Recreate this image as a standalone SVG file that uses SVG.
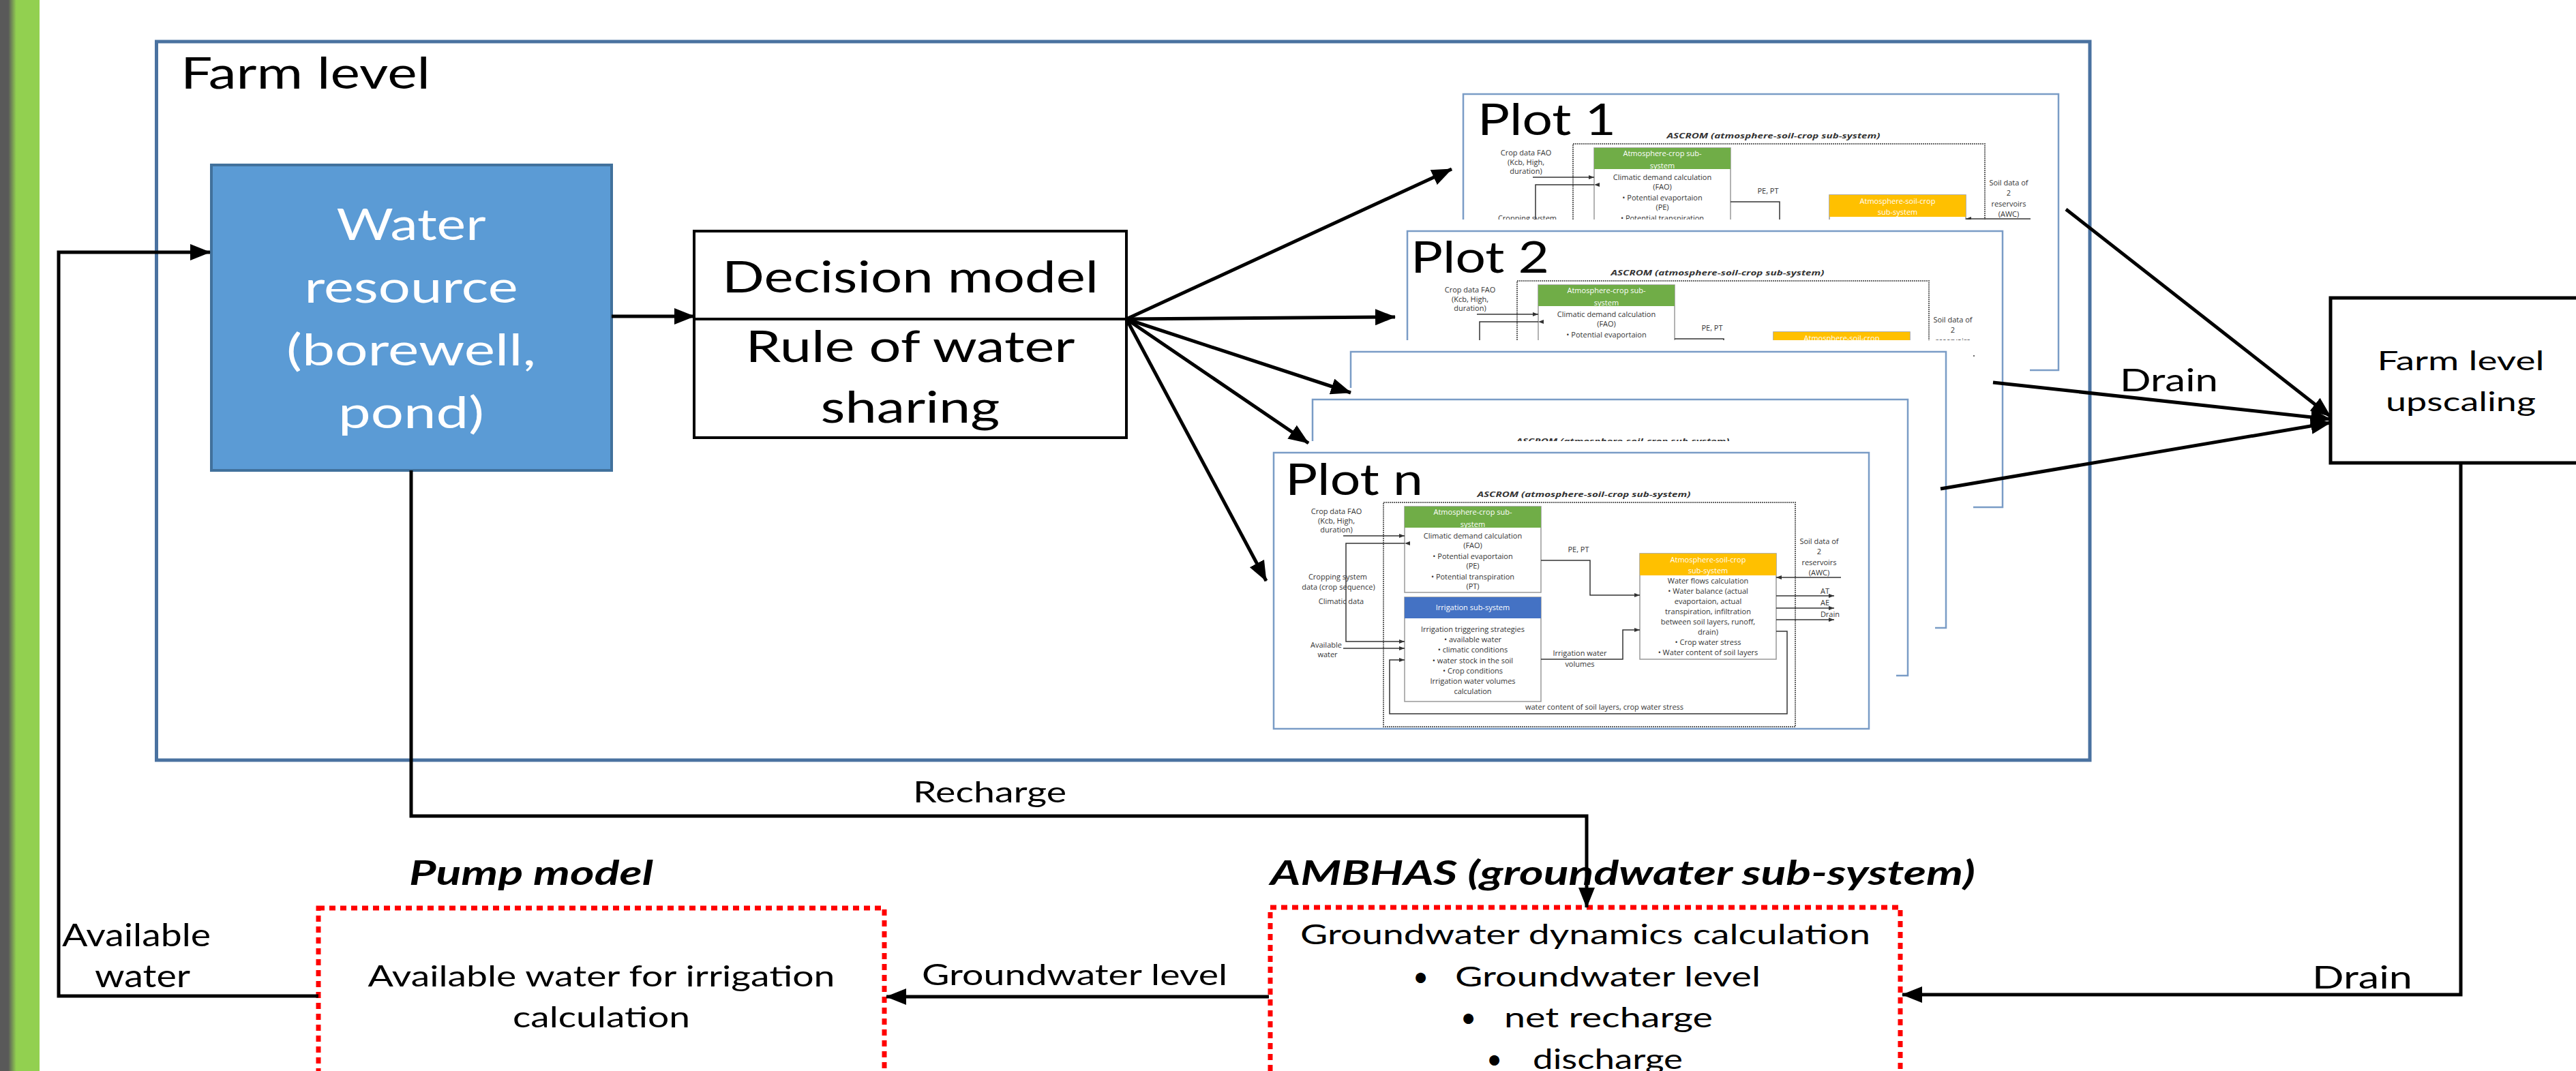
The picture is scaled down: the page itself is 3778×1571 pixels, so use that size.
<svg xmlns="http://www.w3.org/2000/svg" width="3778" height="1571" viewBox="0 0 3778 1571">
<defs>
<style>
.t{font-family:Lato,'Open Sans','Liberation Sans',sans-serif;fill:#000}
.m{text-anchor:middle}
.w{fill:#fff}
.bi{font-weight:bold;font-style:italic}
.conn{fill:none;stroke:#000;stroke-width:5}
.pbox{fill:none;stroke:#7a9cc6;stroke-width:2.5}
.red{fill:#fff;stroke:#ff0000;stroke-width:7;stroke-dasharray:9 7}
.s{font-family:'Open Sans','Liberation Sans',sans-serif;font-size:11px;fill:#333;text-anchor:middle}
.sw{fill:#fff}
.sr{text-anchor:end}
.sl{fill:none;stroke:#333;stroke-width:1.5}
</style>
<linearGradient id="bar" x1="0" x2="1" y1="0" y2="0">
<stop offset="0" stop-color="#595959"/>
<stop offset="0.21" stop-color="#595959"/>
<stop offset="0.41" stop-color="#92d050"/>
<stop offset="1" stop-color="#92d050"/>
</linearGradient>
<marker id="ah" viewBox="0 0 30 24" refX="29" refY="12" markerWidth="30" markerHeight="24" markerUnits="userSpaceOnUse" orient="auto"><path d="M0,0 L30,12 L0,24 z" fill="#000"/></marker>
<marker id="as" viewBox="0 0 8 6" refX="8" refY="3" markerWidth="8" markerHeight="6" markerUnits="userSpaceOnUse" orient="auto"><path d="M0,0 L8,3 L0,6 z" fill="#333"/></marker>
<g id="pc">
<text class="s bi" x="455" y="65" font-size="13" fill="#222" textLength="313" lengthAdjust="spacingAndGlyphs">ASCROM (atmosphere-soil-crop sub-system)</text>
<rect x="161" y="73" width="604" height="329" fill="none" stroke="#666" stroke-width="2" stroke-dasharray="2 1"/>
<rect x="192" y="79" width="200" height="126" fill="#fff" stroke="#999" stroke-width="1.5"/>
<rect x="192" y="79" width="200" height="31" fill="#70ad47"/>
<text class="s sw" x="292" y="91">Atmosphere-crop sub-</text>
<text class="s sw" x="292" y="109">system</text>
<text class="s" x="292" y="126">Climatic demand calculation</text>
<text class="s" x="292" y="140">(FAO)</text>
<text class="s" x="292" y="156">•   Potential evaportaion</text>
<text class="s" x="292" y="170">(PE)</text>
<text class="s" x="292" y="186">•   Potential transpiration</text>
<text class="s" x="292" y="200">(PT)</text>
<rect x="192" y="212" width="200" height="153" fill="#fff" stroke="#999" stroke-width="1.5"/>
<rect x="192" y="212" width="200" height="31" fill="#4472c4"/>
<text class="s sw" x="292" y="231">Irrigation sub-system</text>
<text class="s" x="292" y="263">Irrigation triggering strategies</text>
<text class="s" x="292" y="278">•   available water</text>
<text class="s" x="292" y="293">•   climatic conditions</text>
<text class="s" x="292" y="309">•   water stock in the soil</text>
<text class="s" x="292" y="324">•   Crop conditions</text>
<text class="s" x="292" y="339">Irrigation water volumes</text>
<text class="s" x="292" y="354">calculation</text>
<rect x="537" y="148" width="200" height="155" fill="#fff" stroke="#999" stroke-width="1.5"/>
<rect x="537" y="148" width="200" height="32" fill="#ffc000"/>
<text class="s sw" x="637" y="161">Atmosphere-soil-crop</text>
<text class="s sw" x="637" y="177">sub-system</text>
<text class="s" x="637" y="192">Water flows calculation</text>
<text class="s" x="637" y="207">•  Water balance (actual</text>
<text class="s" x="637" y="222">evaportaion, actual</text>
<text class="s" x="637" y="237">transpiration, infiltration</text>
<text class="s" x="637" y="252">between soil layers, runoff,</text>
<text class="s" x="637" y="267">drain)</text>
<text class="s" x="637" y="282">•  Crop water stress</text>
<text class="s" x="637" y="297">•  Water content of soil layers</text>
<text class="s" x="92" y="90">Crop data FAO</text>
<text class="s" x="92" y="104">(Kcb, High,</text>
<text class="s" x="92" y="117">duration)</text>
<text class="s" x="94" y="186">Cropping system</text>
<text class="s" x="95" y="201">data (crop sequence)</text>
<text class="s" x="99" y="222">Climatic data</text>
<text class="s" x="77" y="286">Available</text>
<text class="s" x="79" y="300">water</text>
<text class="s" x="447" y="146">PE, PT</text>
<text class="s" x="449" y="298">Irrigation water</text>
<text class="s" x="449" y="314">volumes</text>
<text class="s" x="800" y="134">Soil data of</text>
<text class="s" x="800" y="149">2</text>
<text class="s" x="800" y="165">reservoirs</text>
<text class="s" x="800" y="180">(AWC)</text>
<text class="s sr" x="815" y="207">AT</text>
<text class="s sr" x="815" y="224">AE</text>
<text class="s sr" x="830" y="241">Drain</text>
<text class="s" x="485" y="377">water content of soil layers, crop water stress</text>
<path class="sl" d="M102,122 H192" marker-end="url(#as)"/>
<path class="sl" d="M192,133 H106 V277 H192" marker-start="url(#as)" marker-end="url(#as)"/>
<path class="sl" d="M102,287 H192" marker-end="url(#as)"/>
<path class="sl" d="M737,262 H753 V383 H170 V304 H192" marker-end="url(#as)"/>
<path class="sl" d="M392,158 H464 V209 H537" marker-end="url(#as)"/>
<path class="sl" d="M392,303 H512 V260 H537" marker-end="url(#as)"/>
<path class="sl" d="M832,183 H737" marker-end="url(#as)"/>
<path class="sl" d="M737,210 H822" marker-end="url(#as)"/>
<path class="sl" d="M737,228 H822" marker-end="url(#as)"/>
<path class="sl" d="M737,245 H822" marker-end="url(#as)"/>
</g>
</defs>
<rect x="0" y="0" width="3778" height="1571" fill="#fff"/>
<rect x="0" y="0" width="58" height="1571" fill="url(#bar)"/>

<g id="farm-level">
<rect x="229.5" y="61" width="2835.5" height="1054" fill="none" stroke="#4a72a0" stroke-width="5"/>
<text class="t" x="265" y="130" font-size="64" textLength="366" lengthAdjust="spacingAndGlyphs">Farm level</text>
</g>

<g id="water-resource">
<rect x="310" y="242" width="587" height="448" fill="#5b9bd5" stroke="#41719c" stroke-width="4"/>
<text class="t m w" x="603" y="352" font-size="64" textLength="219" lengthAdjust="spacingAndGlyphs">Water</text>
<text class="t m w" x="603" y="444" font-size="64" textLength="313" lengthAdjust="spacingAndGlyphs">resource</text>
<text class="t m w" x="603" y="536" font-size="64" textLength="366" lengthAdjust="spacingAndGlyphs">(borewell,</text>
<text class="t m w" x="603" y="628" font-size="64" textLength="214" lengthAdjust="spacingAndGlyphs">pond)</text>
</g>

<g id="decision-model">
<rect x="1018" y="339" width="634" height="303" fill="#fff" stroke="#000" stroke-width="4"/>
<line x1="1018" y1="468" x2="1652" y2="468" stroke="#000" stroke-width="4"/>
<text class="t m" x="1335" y="429" font-size="64" textLength="552" lengthAdjust="spacingAndGlyphs">Decision model</text>
<text class="t m" x="1335" y="531" font-size="64" textLength="483" lengthAdjust="spacingAndGlyphs">Rule of water</text>
<text class="t m" x="1335" y="620" font-size="64" textLength="263" lengthAdjust="spacingAndGlyphs">sharing</text>
</g>

<g id="plot-1">
<rect x="2129" y="121" width="930" height="439" fill="#fff"/>
<rect class="pbox" x="2146" y="138" width="873" height="405"/>
<use href="#pc" x="2146" y="138"/>
<text class="t" x="2167" y="198" font-size="63" textLength="203" lengthAdjust="spacingAndGlyphs">Plot 1</text>
</g>
<g id="plot-2">
<rect x="2047" y="322" width="930" height="439" fill="#fff"/>
<rect class="pbox" x="2064" y="339" width="873" height="405"/>
<use href="#pc" x="2064" y="339"/>
<text class="t" x="2069" y="400" font-size="63" textLength="203" lengthAdjust="spacingAndGlyphs">Plot 2</text>
</g>
<g id="plot-3">
<rect x="1964" y="499" width="930" height="439" fill="#fff"/>
<rect class="pbox" x="1981" y="516" width="873" height="405"/>
<use href="#pc" x="1981" y="516"/>
</g>
<g id="plot-4">
<rect x="1908" y="569" width="930" height="439" fill="#fff"/>
<rect class="pbox" x="1925" y="586" width="873" height="405"/>
<use href="#pc" x="1925" y="586"/>
</g>
<g id="plot-n">
<rect x="1851" y="647" width="930" height="439" fill="#fff"/>
<rect class="pbox" x="1868" y="664" width="873" height="405"/>
<use href="#pc" x="1868" y="664"/>
<text class="t" x="1885" y="726" font-size="63" textLength="202" lengthAdjust="spacingAndGlyphs">Plot n</text>
</g>

<g id="farm-upscaling">
<rect x="3418" y="437" width="420" height="242" fill="#fff" stroke="#000" stroke-width="5"/>
<text class="t m" x="3609" y="543" font-size="39" textLength="245" lengthAdjust="spacingAndGlyphs">Farm level</text>
<text class="t m" x="3609" y="603" font-size="39" textLength="220" lengthAdjust="spacingAndGlyphs">upscaling</text>
</g>

<g id="pump-model">
<rect class="red" x="467" y="1332" width="830" height="300"/>
<text class="t bi" x="600" y="1298" font-size="49" textLength="358" lengthAdjust="spacingAndGlyphs">Pump model</text>
<text class="t m" x="882" y="1447" font-size="42" textLength="685" lengthAdjust="spacingAndGlyphs">Available water for irrigation</text>
<text class="t m" x="882" y="1507" font-size="42" textLength="260" lengthAdjust="spacingAndGlyphs">calculation</text>
</g>

<g id="ambhas">
<rect class="red" x="1863" y="1331" width="924" height="300"/>
<text class="t bi" x="1863" y="1298" font-size="49" textLength="1034" lengthAdjust="spacingAndGlyphs">AMBHAS (groundwater sub-system)</text>
<text class="t" x="1907" y="1385" font-size="40" textLength="836" lengthAdjust="spacingAndGlyphs">Groundwater dynamics calculation</text>
<text class="t" x="2072" y="1447" font-size="40">•</text>
<text class="t" x="2134" y="1447" font-size="40" textLength="448" lengthAdjust="spacingAndGlyphs">Groundwater level</text>
<text class="t" x="2142" y="1507" font-size="40">•</text>
<text class="t" x="2206" y="1507" font-size="40" textLength="306" lengthAdjust="spacingAndGlyphs">net recharge</text>
<text class="t" x="2180" y="1568" font-size="40">•</text>
<text class="t" x="2248" y="1568" font-size="40" textLength="220" lengthAdjust="spacingAndGlyphs">discharge</text>
</g>

<g id="connectors">
<path class="conn" d="M467,1461 H86 V370 H308" marker-end="url(#ah)"/>
<path class="conn" d="M897,464 H1018" marker-end="url(#ah)"/>
<path class="conn" stroke-width="6" d="M1652,468 L2129,248" marker-end="url(#ah)"/>
<path class="conn" stroke-width="6" d="M1652,468 L2046,465" marker-end="url(#ah)"/>
<path class="conn" stroke-width="6" d="M1652,468 L1981,576" marker-end="url(#ah)"/>
<path class="conn" stroke-width="6" d="M1652,468 L1919,650" marker-end="url(#ah)"/>
<path class="conn" stroke-width="6" d="M1652,468 L1857,852" marker-end="url(#ah)"/>
<path class="conn" d="M3030,307 L3418,611" marker-end="url(#ah)"/>
<path class="conn" d="M2923,561 L3418,615" marker-end="url(#ah)"/>
<path class="conn" d="M2846,717 L3418,620" marker-end="url(#ah)"/>
<path class="conn" d="M603,690 V1197 H2327 V1331" marker-end="url(#ah)"/>
<path class="conn" d="M3609,679 V1459 H2790" marker-end="url(#ah)"/>
<path class="conn" d="M1861,1462 H1300" marker-end="url(#ah)"/>
<text class="t" x="3109" y="574" font-size="47" textLength="144" lengthAdjust="spacingAndGlyphs">Drain</text>
<text class="t" x="3391" y="1450" font-size="47" textLength="147" lengthAdjust="spacingAndGlyphs">Drain</text>
<text class="t" x="1339" y="1177" font-size="42" textLength="225" lengthAdjust="spacingAndGlyphs">Recharge</text>
<text class="t" x="1352" y="1445" font-size="42" textLength="448" lengthAdjust="spacingAndGlyphs">Groundwater level</text>
<text class="t" x="91" y="1388" font-size="46" textLength="218" lengthAdjust="spacingAndGlyphs">Available</text>
<text class="t" x="139" y="1448" font-size="46" textLength="140" lengthAdjust="spacingAndGlyphs">water</text>
</g>
</svg>
